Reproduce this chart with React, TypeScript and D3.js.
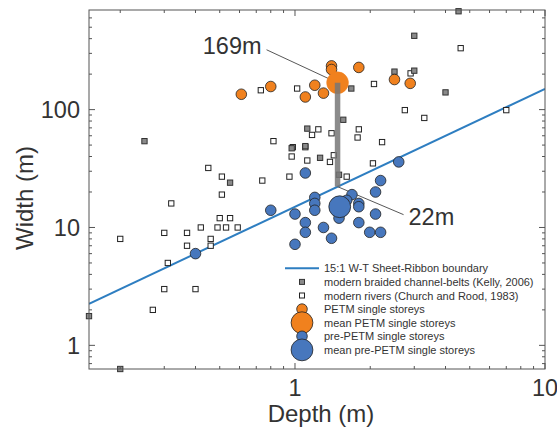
import React from "react";
import * as d3 from "d3";

// ---- data (depth m, width m) ----
const kellyDepth = [0.25, 0.55, 1.68, 2.5, 1.56, 4.51, 3.0, 3.0, 4.0, 1.12, 0.97, 1.1, 1.26, 1.5, 0.15, 0.2];
const kellyWidth = [54, 24, 151, 210, 82, 683, 423, 214, 140, 69, 47, 49, 39, 28, 1.77, 0.63];

const churchDepth = [0.73, 0.82, 0.45, 0.51, 0.74, 0.51, 0.32, 0.2, 0.42, 0.5, 0.55, 0.49, 0.53, 0.59, 0.3, 0.37, 0.37, 0.46, 0.46, 0.31, 0.3, 0.4, 0.27, 1.02, 2.07, 2.75, 4.6, 2.9, 3.29, 7.0, 1.24, 1.17, 1.4, 1.8, 1.78, 2.23, 0.98, 1.1, 0.97, 1.12, 1.43, 1.38, 2.05, 0.95, 1.61];
const churchWidth = [146, 54, 32, 27, 25, 19, 16, 8, 10, 12, 12, 10, 10, 10, 9, 9, 7, 8, 7, 5, 3, 3, 2, 151, 165, 99, 332, 203, 85, 99, 68, 61, 63, 68, 58, 53, 48, 48, 40, 37, 41, 36, 35, 27, 27];

const petmDepth = [0.61, 0.8, 1.2, 1.1, 1.3, 1.4, 1.4, 1.8, 2.5, 2.89];
const petmWidth = [135, 157, 161, 128, 138, 235, 219, 228, 180, 167];

const preDepth = [0.4, 0.8, 1.1, 2.6, 2.2, 2.1, 1.2, 1.2, 1.2, 1.69, 1.61, 1.8, 1.8, 1.5, 1.0, 2.1, 1.1, 1.3, 1.8, 1.1, 1.4, 1.99, 2.2, 1.0];
const preWidth = [6.0, 14, 29, 36, 25, 20, 18, 16, 14, 19, 17, 16, 15, 12, 13, 13, 11, 10, 11, 9.1, 8.1, 9.1, 9.1, 7.2];

const meanPetm = [1.48, 169];
const meanPre = [1.51, 15];
const ratioWT = 15;

const xMajor = [1, 10];
const xMinor = [0.2, 0.3, 0.4, 0.5, 0.6, 0.7, 0.8, 0.9, 2, 3, 4, 5, 6, 7, 8, 9];
const yMajor = [1, 10, 100];
const yMinor = [0.7, 0.8, 0.9, 2, 3, 4, 5, 6, 7, 8, 9, 20, 30, 40, 50, 60, 70, 80, 90, 200, 300, 400, 500, 600];

const legendLabels = [
  "15:1 W-T Sheet-Ribbon boundary",
  "modern braided channel-belts (Kelly, 2006)",
  "modern rivers (Church and Rood, 1983)",
  "PETM single storeys",
  "mean PETM single storeys",
  "pre-PETM single storeys",
  "mean pre-PETM single storeys",
];

const ORANGE = "#F0811E";
const BLUE = "#4777BD";
const LINEBLUE = "#2E7EC1";
const GRAY = "#8a8a8a";
const TEXT = "#333";
const AXIS = "#555";
const FONT = "'Liberation Sans', Arial, Helvetica, sans-serif";

export default function App() {
  const L = 89, R = 545, T = 10, B = 369;
  const x = d3.scaleLog().domain([0.15, 10]).range([L, R]);
  const y = d3.scaleLog().domain([0.63, 700]).range([B, T]);
  const line = d3.line<number>().x((d) => x(d)).y((d) => y(d * ratioWT));
  const lineDomain = [0.15, 10];

  const sq = 5.3;
  const rS = 5.3;
  const rB = 10.9;

  const mpx = x(meanPetm[0]);
  const mpy = y(meanPetm[1]);
  const barBottom = y(meanPetm[0] * ratioWT);

  const legX = 302;
  const legY0 = 268.3;
  const legDy = 13.6;

  return (
    <svg
      width={557}
      height={429}
      style={{ position: "absolute", left: 0, top: 0, background: "#fff" }}
      fontFamily={FONT}
    >
      <defs>
        <clipPath id="plotclip">
          <rect x={L} y={T} width={R - L} height={B - T} />
        </clipPath>
      </defs>
      <rect x={0} y={0} width={557} height={429} fill="#fff" />

      {/* boundary line */}
      <path d={line(lineDomain) || ""} stroke={LINEBLUE} strokeWidth={2} fill="none" clipPath="url(#plotclip)" />

      {/* squares */}
      {churchDepth.map((d, i) => (
        <rect key={"c" + i} x={x(d) - sq / 2} y={y(churchWidth[i]) - sq / 2} width={sq} height={sq}
          fill="#fff" stroke="#222" strokeWidth={1} />
      ))}
      {kellyDepth.map((d, i) => (
        <rect key={"k" + i} x={x(d) - sq / 2} y={y(kellyWidth[i]) - sq / 2} width={sq} height={sq}
          fill={GRAY} stroke="#333" strokeWidth={1} />
      ))}

      {/* annotation leader lines */}
      <line x1={mpx} y1={mpy} x2={mpx - 71} y2={mpy - 33} stroke="#444" strokeWidth={0.9} />
      <line x1={mpx} y1={barBottom} x2={mpx + 66} y2={barBottom + 28} stroke="#444" strokeWidth={0.9} />

      {/* circles */}
      {petmDepth.map((d, i) => (
        <circle key={"p" + i} cx={x(d)} cy={y(petmWidth[i])} r={rS} fill={ORANGE} stroke="#222" strokeWidth={0.8} />
      ))}
      {preDepth.map((d, i) => (
        <circle key={"b" + i} cx={x(d)} cy={y(preWidth[i])} r={rS} fill={BLUE} stroke="#222" strokeWidth={0.8} />
      ))}
      <circle cx={x(meanPetm[0])} cy={y(meanPetm[1])} r={rB} fill={ORANGE} stroke={ORANGE} strokeWidth={0.5} />
      <circle cx={x(meanPre[0])} cy={y(meanPre[1])} r={rB} fill={BLUE} stroke="#222" strokeWidth={0.8} />

      {/* gray bar from mean PETM width to 15:1 line */}
      <line x1={mpx} y1={mpy} x2={mpx} y2={barBottom} stroke="#777" strokeOpacity={0.85} strokeWidth={5.5} />

      {/* annotations */}
      <text x={mpx - 76} y={mpy - 28.5} textAnchor="end" fontSize={23.5} fill={TEXT}>169m</text>
      <text x={mpx + 71} y={barBottom + 38} textAnchor="start" fontSize={23.5} fill={TEXT}>22m</text>

      {/* axes frame */}
      <rect x={L} y={T} width={R - L} height={B - T} fill="none" stroke={AXIS} strokeWidth={1} />
      {xMajor.map((v) => (
        <g key={"xM" + v}>
          <line x1={x(v)} x2={x(v)} y1={B} y2={B - 6} stroke={AXIS} />
          <line x1={x(v)} x2={x(v)} y1={T} y2={T + 6} stroke={AXIS} />
          <text x={x(v)} y={396} textAnchor="middle" fontSize={23.5} fill={TEXT}>{String(v)}</text>
        </g>
      ))}
      {xMinor.map((v) => (
        <g key={"xm" + v}>
          <line x1={x(v)} x2={x(v)} y1={B} y2={B - 3} stroke={AXIS} />
          <line x1={x(v)} x2={x(v)} y1={T} y2={T + 3} stroke={AXIS} />
        </g>
      ))}
      {yMajor.map((v) => (
        <g key={"yM" + v}>
          <line x1={L} x2={L + 6} y1={y(v)} y2={y(v)} stroke={AXIS} />
          <line x1={R} x2={R - 6} y1={y(v)} y2={y(v)} stroke={AXIS} />
          <text x={80} y={y(v) + 8.5} textAnchor="end" fontSize={23.5} fill={TEXT}>{String(v)}</text>
        </g>
      ))}
      {yMinor.map((v) => (
        <g key={"ym" + v}>
          <line x1={L} x2={L + 3} y1={y(v)} y2={y(v)} stroke={AXIS} />
          <line x1={R} x2={R - 3} y1={y(v)} y2={y(v)} stroke={AXIS} />
        </g>
      ))}

      {/* axis labels */}
      <text x={321} y={422} textAnchor="middle" fontSize={24} fill={TEXT}>Depth (m)</text>
      <text transform="translate(33,198) rotate(-90)" textAnchor="middle" fontSize={24} fill={TEXT}>Width (m)</text>

      {/* legend */}
      <g fontSize={11} fill={TEXT}>
        <line x1={285} x2={319} y1={legY0} y2={legY0} stroke={LINEBLUE} strokeWidth={2} />
        <rect x={legX - 2.5} y={legY0 + legDy - 2.5} width={5} height={5} fill={GRAY} stroke="#333" strokeWidth={1} />
        <rect x={legX - 2.5} y={legY0 + 2 * legDy - 2.5} width={5} height={5} fill="#fff" stroke="#222" strokeWidth={1} />
        <circle cx={legX} cy={legY0 + 3 * legDy} r={rS} fill={ORANGE} stroke="#222" strokeWidth={0.8} />
        <circle cx={legX} cy={legY0 + 4 * legDy} r={rB} fill={ORANGE} stroke="#222" strokeWidth={0.8} />
        <circle cx={legX} cy={legY0 + 5 * legDy} r={rS} fill={BLUE} stroke="#222" strokeWidth={0.8} />
        <circle cx={legX} cy={legY0 + 6 * legDy} r={rB} fill={BLUE} stroke="#222" strokeWidth={0.8} />
        {legendLabels.map((t, i) => (
          <text key={"l" + i} x={324} y={legY0 + i * legDy + 4} fill={TEXT}>{t}</text>
        ))}
      </g>
    </svg>
  );
}
